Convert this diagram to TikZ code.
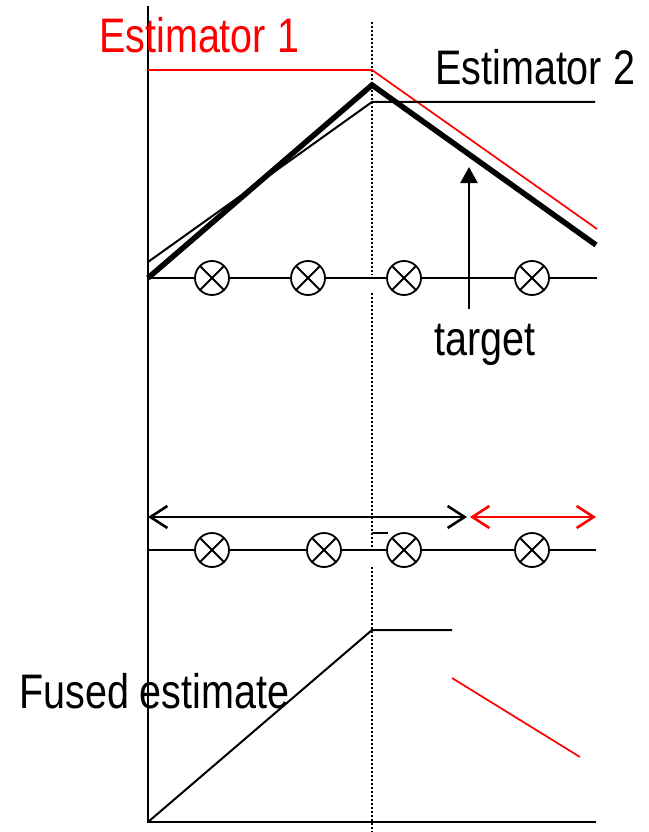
\documentclass[tikz,border=0pt]{standalone}
\usepackage{fontspec}
\newfontfamily\labfont{Liberation Sans}[FakeStretch=0.815]
\usetikzlibrary{arrows.meta}
\begin{document}
\begin{tikzpicture}[x=1pt,y=-1pt,
  lab/.style={anchor=base west, inner sep=0pt, font=\labfont\fontsize{48.5}{52}\selectfont},
  axisl/.style={line width=2.2pt},
  thinl/.style={line width=2pt},
  thickl/.style={line width=5.5pt, line join=miter},
  redl/.style={red, line width=1.7pt},
  dotl/.style={line width=1.8pt, dash pattern=on 2pt off 2pt},
  sensor/.style={circle, draw, fill=white, minimum size=34pt, inner sep=0pt, line width=1.8pt,
    path picture={\draw[line width=1.8pt] (path picture bounding box.north west) -- (path picture bounding box.south east)
      (path picture bounding box.north east) -- (path picture bounding box.south west);}},
  barb/.style={line width=2.6pt, {Straight Barb[length=17pt,width=22pt]}-{Straight Barb[length=17pt,width=22pt]}}
]
\useasboundingbox (0,0) rectangle (648,832);

% axes
\coordinate (axtop) at (148,6);
\coordinate (axorig) at (148,822);
\coordinate (axend) at (596,822);
\draw[axisl] (axtop) -- (axorig) -- (axend);

% dotted vertical line
\coordinate (d0) at (372,22);
\coordinate (d1) at (372,275);
\coordinate (d2) at (372,293);
\coordinate (d3) at (372,548);
\coordinate (d4) at (372,567);
\coordinate (d5) at (372,832);
\draw[dotl] (d0) -- (d1);
\draw[dotl] (d2) -- (d3);
\draw[dotl] (d4) -- (d5);

% estimator 1 (red)
\coordinate (r0) at (148,70);
\coordinate (r1) at (372,70);
\coordinate (r2) at (597,229);
\draw[redl] (r0) -- (r1) -- (r2);

% estimator 2 (thin black)
\coordinate (e0) at (148,262);
\coordinate (e1) at (372,102);
\coordinate (e2) at (595,102);
\draw[thinl] (e0) -- (e1) -- (e2);

% target (thick black)
\coordinate (t0) at (148,278);
\coordinate (t1) at (372,85);
\coordinate (t2) at (596,245);
\draw[thickl] (t0) -- (t1) -- (t2);

% sensor line 1
\coordinate (s1a) at (148,278);
\coordinate (s1b) at (597,278);
\node[sensor] (a1) at (212,278) {};
\node[sensor] (a2) at (308,278) {};
\node[sensor] (a3) at (404,278) {};
\node[sensor] (a4) at (532,278) {};
\draw[thinl] (s1a) -- (a1) -- (a2) -- (a3) -- (a4) -- (s1b);

% target arrow
\coordinate (tgbot) at (469,309);
\coordinate (tgtop) at (469,167);
\draw[line width=2.4pt, -{Triangle[length=16pt,width=17pt]}] (tgbot) -- (tgtop);

% labels
\node[lab, text=red] (lab1) at (99,53) {Estimator 1};
\node[lab] (lab2) at (435,85) {Estimator 2};
\node[lab] (labt) at (434,355) {target};
\node[lab] (labf) at (19,708) {Fused estimate};

% ranges
\coordinate (ar0) at (148,517);
\coordinate (ar1) at (467,517);
\coordinate (ar2) at (470,517);
\coordinate (ar3) at (596,517);
\draw[barb] (ar0) -- (ar1);
\draw[barb, red] (ar2) -- (ar3);

% tick
\coordinate (tk0) at (372,533);
\coordinate (tk1) at (388,533);
\draw[line width=1.8pt] (tk0) -- (tk1);

% sensor line 2
\coordinate (s2a) at (148,550);
\coordinate (s2b) at (596,550);
\node[sensor] (b1) at (212,550) {};
\node[sensor] (b2) at (324,550) {};
\node[sensor] (b3) at (404,550) {};
\node[sensor] (b4) at (532,550) {};
\draw[thinl] (s2a) -- (b1) -- (b2) -- (b3) -- (b4) -- (s2b);

% fused estimate
\coordinate (f1) at (372,630);
\coordinate (f2) at (452,630);
\draw[thinl] (axorig) -- (f1) -- (f2);
\coordinate (g0) at (452,678);
\coordinate (g1) at (580,757);
\draw[redl] (g0) -- (g1);
\end{tikzpicture}
\end{document}
